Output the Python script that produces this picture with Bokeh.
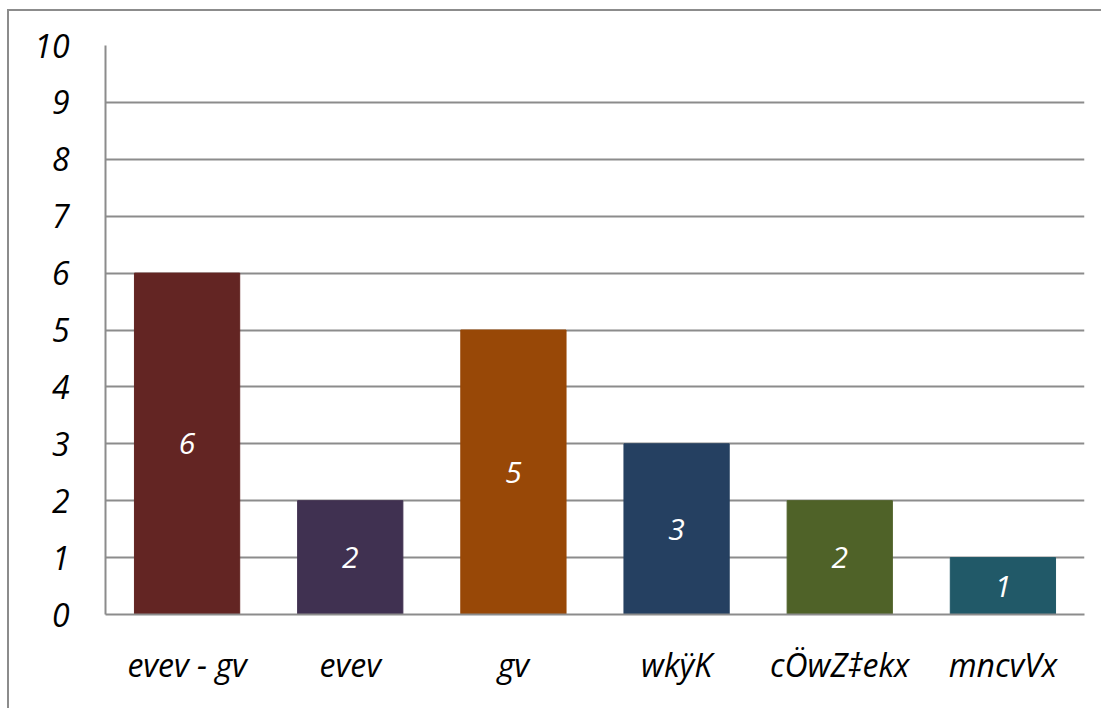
from bokeh.plotting import figure
from bokeh.models import ColumnDataSource, FactorRange, FixedTicker, LabelSet
from bokeh.core.properties import value
from bokeh.embed import file_html
from bokeh.resources import INLINE

categories = ["evev - gv", "evev", "gv", "wkÿK", "cÖwZ‡ekx", "mncvVx"]
counts = [6, 2, 5, 3, 2, 1]
colors = ["#632523", "#403151", "#984807", "#254061", "#4F6228", "#215968"]
y_ticks = [0, 1, 2, 3, 4, 5, 6, 7, 8, 9, 10]

source = ColumnDataSource(dict(
    cat=categories,
    count=counts,
    color=colors,
    mid=[c / 2 for c in counts],
    label=[str(c) for c in counts],
))

p = figure(
    width=1094, height=699,
    x_range=FactorRange(*categories, range_padding=0),
    y_range=(0, 10),
    output_backend="svg", toolbar_location=None,
    min_border_left=96, min_border_right=19, min_border_top=34, min_border_bottom=96,
)
p.styles = {"border-top": "2px solid #8c8c8c", "border-left": "2px solid #8c8c8c",
            "margin-left": "7px", "margin-top": "9px"}
p.outline_line_color = None
p.background_fill_color = "white"

p.vbar(x="cat", top="count", width=0.645, color="color", source=source)

labels = LabelSet(x="cat", y="mid", text="label", source=source,
                  text_color="white", text_font_size="30px",
                  text_font=value("Open Sans"), text_font_style="italic",
                  text_align="center", text_baseline="middle")
p.add_layout(labels)

p.xgrid.grid_line_color = None
p.ygrid.grid_line_color = "#8c8c8c"
p.ygrid.grid_line_width = 2
p.ygrid.level = "underlay"

p.yaxis.ticker = FixedTicker(ticks=y_ticks)
p.yaxis.axis_line_color = "#8c8c8c"
p.yaxis.axis_line_width = 2
p.yaxis.major_tick_line_color = None
p.yaxis.minor_tick_line_color = None
p.yaxis.major_label_standoff = 30
p.yaxis.major_label_text_font = "Open Sans"
p.yaxis.major_label_text_font_style = "italic"
p.yaxis.major_label_text_font_size = "32px"
p.yaxis.major_label_text_color = "black"

p.xaxis.axis_line_color = "#8c8c8c"
p.xaxis.axis_line_width = 2
p.xaxis.major_tick_line_color = None
p.xaxis.minor_tick_line_color = None
p.xaxis.major_label_standoff = 22
p.xaxis.major_label_text_font = "Open Sans"
p.xaxis.major_label_text_font_style = "italic"
p.xaxis.major_label_text_font_size = "32px"
p.xaxis.major_label_text_color = "black"

open("out.html", "w").write(file_html(p, INLINE))
